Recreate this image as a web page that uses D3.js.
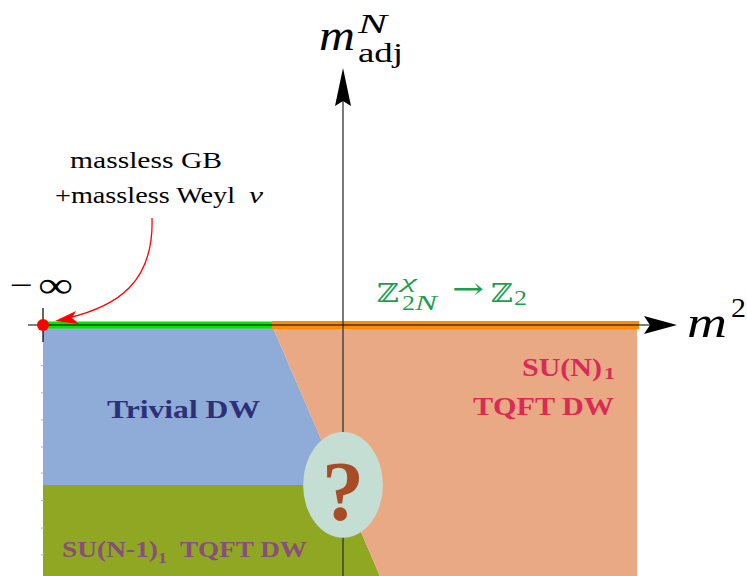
<!DOCTYPE html>
<html>
<head>
<meta charset="utf-8">
<script src="https://cdn.jsdelivr.net/npm/d3@7"></script>
<style>
  html, body { margin: 0; padding: 0; background: #fff; }
  svg { display: block; }
</style>
</head>
<body>
<svg id="chart" width="747" height="576"></svg>
<script>
// Phase diagram in the (m², m_adj^N) plane; the left edge stands for m² → −∞.
const xDomain = [-10, 10];
const yDomain = [0, -10];

// Phase regions, corners given in (m², m_adj) units
const trivialRegion = [[-10, 0], [-2.37, 0], [-0.07, -6.37], [-10, -6.37]];
const suN1Region    = [[-10, -6.37], [-0.07, -6.37], [1.23, -10], [-10, -10]];
const suNRegion     = [[-2.37, 0], [9.8, 0], [9.8, -10], [1.23, -10]];
const regionColors  = ["#8fabd7", "#8fa722", "#eaa985"];

// Symmetry-breaking segments along the m² axis
const greenSegment  = [[-10, 0], [-2.37, 0]];
const orangeSegment = [[-2.37, 0], [9.87, 0]];

// Unknown region around the multicritical point
const unknownCenter = [0, -6.37];
const unknownRadii  = [1.33, 2.11];

// Small ticks along the left edge
const edgeTicks = [-1.62, -2.7, -3.78, -4.86, -5.9, -7.0, -8.09, -9.16];

const SERIF = "'Liberation Serif', 'Times New Roman', serif";
const MATH  = "'DejaVu Serif', serif";

const svg = d3.select("#chart");
const x = d3.scaleLinear().domain(xDomain).range([43, 643]);
const y = d3.scaleLinear().domain(yDomain).range([325, 576]);
const line = d3.line().x(d => x(d[0])).y(d => y(d[1]));

// Regions
svg.selectAll("path.region")
  .data([trivialRegion, suN1Region, suNRegion])
  .join("path")
  .attr("class", "region")
  .attr("d", d => line(d) + "Z")
  .attr("fill", (d, i) => regionColors[i]);

// Edge ticks
svg.selectAll("line.etick")
  .data(edgeTicks)
  .join("line")
  .attr("class", "etick")
  .attr("x1", x(-10) - 2).attr("x2", x(-10) + 1)
  .attr("y1", d => y(d)).attr("y2", d => y(d))
  .attr("stroke", "#9db2df").attr("stroke-width", 1);

// Colored segments on the axis
svg.append("path").attr("d", line(orangeSegment))
  .attr("stroke", "#ff8c00").attr("stroke-width", 8).attr("fill", "none");
svg.append("path").attr("d", line(greenSegment))
  .attr("stroke", "#00e600").attr("stroke-width", 7).attr("fill", "none");

// Vertical axis
svg.append("line")
  .attr("x1", x(0)).attr("x2", x(0))
  .attr("y1", 576).attr("y2", 100)
  .attr("stroke", "#333").attr("stroke-width", 1.3);
svg.append("path")
  .attr("d", `M${x(0)},68 L${x(0) + 8},106 L${x(0)},101 L${x(0) - 8},106 Z`)
  .attr("fill", "#000");

// Horizontal axis
svg.append("line")
  .attr("x1", 28).attr("x2", 650)
  .attr("y1", y(0)).attr("y2", y(0))
  .attr("stroke", "#000").attr("stroke-width", 1.2);
svg.append("path")
  .attr("d", `M677,${y(0)} L644,${y(0) - 9} L650,${y(0)} L644,${y(0) + 9} Z`)
  .attr("fill", "#000");

// Tick at −∞
svg.append("line")
  .attr("x1", x(-10)).attr("x2", x(-10))
  .attr("y1", y(0) - 17).attr("y2", y(0) + 17)
  .attr("stroke", "#000").attr("stroke-width", 1.2);

// Unknown-region ellipse
svg.append("ellipse")
  .attr("cx", x(unknownCenter[0])).attr("cy", y(unknownCenter[1]))
  .attr("rx", x(unknownRadii[0]) - x(0))
  .attr("ry", y(-unknownRadii[1]) - y(0))
  .attr("fill", "#c4ded3");

// Helper for text pieces
function txt(s, px, py, opts = {}) {
  const t = svg.append("text").attr("x", px).attr("y", py).text(s)
    .attr("font-family", opts.family || SERIF)
    .attr("font-size", opts.size || 22)
    .attr("fill", opts.fill || "#000");
  if (opts.italic) t.attr("font-style", "italic");
  if (opts.bold) t.attr("font-weight", "bold");
  if (opts.len) t.attr("textLength", opts.len).attr("lengthAdjust", "spacingAndGlyphs");
  if (opts.anchor) t.attr("text-anchor", opts.anchor);
  return t;
}

txt("?", x(unknownCenter[0]), 520, { size: 84, bold: true, fill: "#a94b26", anchor: "middle" });

// Massless point at −∞
svg.append("circle")
  .attr("cx", x(-10)).attr("cy", y(0)).attr("r", 6)
  .attr("fill", "#ff0000");

// Arrow pointing to it
svg.append("path")
  .attr("d", "M152,218 C154,282 118,306 68,318")
  .attr("stroke", "#ff0000").attr("stroke-width", 1.3).attr("fill", "none");
svg.append("path")
  .attr("d", "M55,321 L76,311 L72,318 L79,324 Z")
  .attr("fill", "#ff0000");

// Annotation
txt("massless GB", 70, 168, { size: 23, len: 152 });
txt("+massless Weyl", 55, 203, { size: 23, len: 180 });
txt("ν", 249, 203, { size: 23, italic: true, len: 14 });

// −∞
txt("−", 10, 295, { size: 30, len: 23 });
txt("∞", 38, 297, { size: 36, len: 35 });

// Vertical axis label m_adj^N
txt("m", 319, 50, { size: 44, italic: true, len: 36 });
txt("N", 358, 33, { size: 28, italic: true, len: 29 });
txt("adj", 358, 62, { size: 28, len: 45 });

// Horizontal axis label m²
txt("m", 687, 337, { size: 44, italic: true, len: 40 });
txt("2", 731, 317, { size: 28, len: 15 });

// Symmetry breaking Z_2N^χ → Z_2
const green = "#1c9e4f";
txt("ℤ", 377, 302, { size: 26, fill: green, family: MATH, len: 22 });
txt("χ", 401, 288, { size: 19, italic: true, fill: green, len: 16 });
txt("2", 402, 310, { size: 22, fill: green, len: 13 });
txt("N", 415, 310, { size: 22, italic: true, fill: green, len: 22 });
txt("→", 452, 299, { size: 30, fill: green, family: MATH, len: 32 });
txt("ℤ", 491, 302, { size: 26, fill: green, family: MATH, len: 22 });
txt("2", 514, 305, { size: 22, fill: green, len: 13 });

// Phase labels
txt("Trivial DW", 107, 418, { size: 26, bold: true, fill: "#2d3079", len: 153 });

const crimson = "#d92b55";
txt("SU(N)", 522, 376, { size: 25, bold: true, fill: crimson, len: 80 });
txt("1", 604, 379, { size: 17, bold: true, fill: crimson, len: 11 });
txt("TQFT DW", 473, 415, { size: 25, bold: true, fill: crimson, len: 141 });

const purple = "#8a4e7c";
txt("SU(N-1)", 62, 557, { size: 23, bold: true, fill: purple, len: 96 });
txt("1", 158, 563, { size: 15, bold: true, fill: purple, len: 9 });
txt("TQFT DW", 180, 557, { size: 23, bold: true, fill: purple, len: 127 });
</script>
</body>
</html>
